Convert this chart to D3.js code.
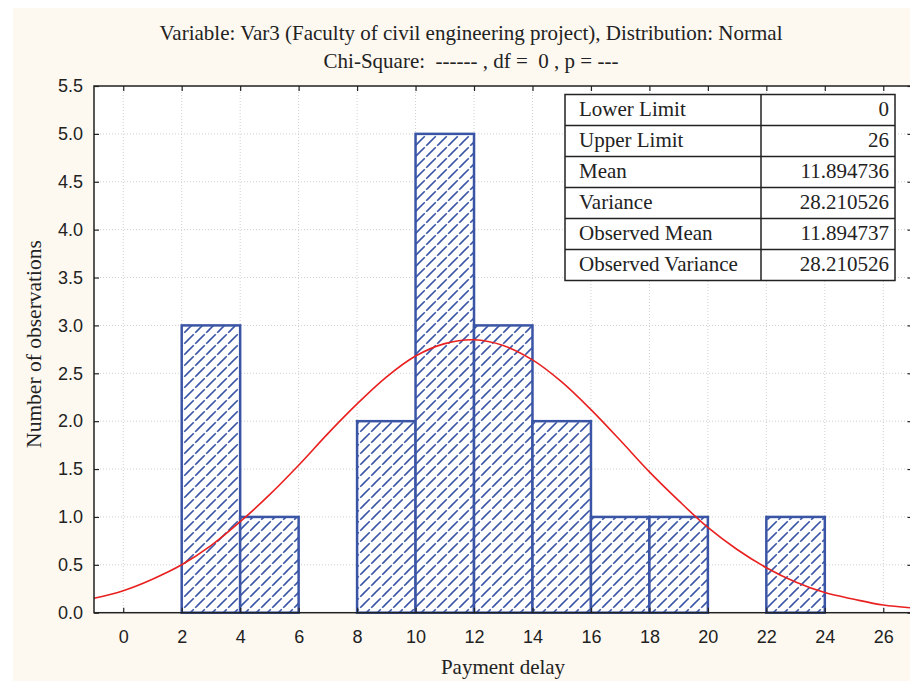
<!DOCTYPE html>
<meta charset="utf-8">
<html>
<script src="https://d3js.org/d3.v7.min.js"></script>
<style>
    body { margin: 0; background: #fff; }
    svg { display: block; }
</style>
<body>
<div id="chart"></div>
<script>
    // histogram bins (lower edge, upper edge, count)
    var binStart = [2, 4, 6, 8, 10, 12, 14, 16, 18, 20, 22];
    var binEnd   = [4, 6, 8, 10, 12, 14, 16, 18, 20, 22, 24];
    var counts   = [3, 1, 0, 2, 5, 3, 2, 1, 1, 0, 1];

    // fitted normal curve at whole x values
    var curveX = [-1, 0, 1, 2, 3, 4, 5, 6, 7, 8, 9, 10, 11, 12, 13,
                  14, 15, 16, 17, 18, 19, 20, 21, 22, 23, 24, 25, 26, 27];
    var curveY = [0.15, 0.23, 0.35, 0.50, 0.70, 0.95, 1.23, 1.54, 1.87, 2.18, 2.46, 2.68, 2.81, 2.85, 2.79,
                  2.64, 2.41, 2.12, 1.80, 1.47, 1.17, 0.89, 0.66, 0.47, 0.32, 0.21, 0.14, 0.08, 0.05];

    var xTicks = [0, 2, 4, 6, 8, 10, 12, 14, 16, 18, 20, 22, 24, 26];
    var yTicks = [0, 0.5, 1, 1.5, 2, 2.5, 3, 3.5, 4, 4.5, 5, 5.5];

    var tableLabels = ["Lower Limit", "Upper Limit", "Mean", "Variance", "Observed Mean", "Observed Variance"];
    var tableValues = ["0", "26", "11.894736", "28.210526", "11.894737", "28.210526"];

    var titleLines = ["Variable: Var3 (Faculty of civil engineering project), Distribution: Normal",
                      "Chi-Square:  ------ , df =  0 , p = ---"];

    var W = 910, H = 681;
    var pL = 94, pR = 912.5, pT = 86, pB = 612.7;
    var serif = "Liberation Serif, Times New Roman, serif";

    var svg = d3.select("#chart").append("svg")
        .attr("width", W).attr("height", H);

    // cream page background
    svg.append("rect").attr("x", 13).attr("y", 8)
        .attr("width", W - 13).attr("height", H - 8)
        .attr("fill", "#fdf9f1");

    var defs = svg.append("defs");
    var pat = defs.append("pattern").attr("id", "hatch")
        .attr("patternUnits", "userSpaceOnUse")
        .attr("width", 11).attr("height", 11);
    pat.append("rect").attr("width", 11).attr("height", 11).attr("fill", "#fff");
    pat.append("path")
        .attr("d", "M-1,12 L12,-1 M-3,3 L3,-3 M8,14 L14,8")
        .attr("stroke", "#3a55a5").attr("stroke-width", 1.6)
        .attr("stroke-dasharray", "11,2");

    var x = d3.scaleLinear().domain([-1, 27]).range([pL, pR]);
    var y = d3.scaleLinear().domain([0, 5.5]).range([pB, pT]);

    // plot area
    svg.append("rect").attr("x", pL).attr("y", pT)
        .attr("width", pR - pL).attr("height", pB - pT)
        .attr("fill", "#fff");

    // grid
    svg.append("g").selectAll("line").data(xTicks).enter().append("line")
        .attr("x1", function (d) { return x(d); }).attr("x2", function (d) { return x(d); })
        .attr("y1", pT).attr("y2", pB)
        .attr("stroke", "#cfcfcf").attr("stroke-dasharray", "1,2");
    svg.append("g").selectAll("line").data(yTicks.slice(1, -1)).enter().append("line")
        .attr("x1", pL).attr("x2", pR)
        .attr("y1", function (d) { return y(d); }).attr("y2", function (d) { return y(d); })
        .attr("stroke", "#cfcfcf").attr("stroke-dasharray", "1,2");

    // bars
    var bars = counts.map(function (c, i) { return { a: binStart[i], b: binEnd[i], c: c }; })
        .filter(function (d) { return d.c > 0; });
    svg.append("g").selectAll("rect").data(bars).enter().append("rect")
        .attr("x", function (d) { return x(d.a); })
        .attr("y", function (d) { return y(d.c); })
        .attr("width", function (d) { return x(d.b) - x(d.a); })
        .attr("height", function (d) { return y(0) - y(d.c); })
        .attr("fill", "url(#hatch)")
        .attr("stroke", "#3a55a5").attr("stroke-width", 2.5);

    // normal curve
    var line = d3.line()
        .x(function (d, i) { return x(curveX[i]); })
        .y(function (d) { return y(d); })
        .curve(d3.curveCatmullRom);
    svg.append("path").datum(curveY)
        .attr("fill", "none").attr("stroke", "#e8201f").attr("stroke-width", 1.6)
        .attr("d", line);

    // frame
    svg.append("rect").attr("x", pL).attr("y", pT)
        .attr("width", pR - pL).attr("height", pB - pT)
        .attr("fill", "none").attr("stroke", "#222").attr("stroke-width", 1.5);

    // axes
    var xAxis = svg.append("g").attr("transform", "translate(0," + pB + ")")
        .call(d3.axisBottom(x).tickValues(xTicks).tickSizeInner(-5).tickSizeOuter(0).tickPadding(18));
    var xTop = svg.append("g").attr("transform", "translate(0," + pT + ")")
        .call(d3.axisTop(x).tickValues(xTicks).tickSizeInner(-5).tickSizeOuter(0).tickFormat(""));
    var yAxis = svg.append("g").attr("transform", "translate(" + pL + ",0)")
        .call(d3.axisLeft(y).tickValues(yTicks).tickSizeInner(-5).tickSizeOuter(0).tickPadding(11)
            .tickFormat(d3.format(".1f")));
    var yRight = svg.append("g").attr("transform", "translate(" + pR + ",0)")
        .call(d3.axisRight(y).tickValues(yTicks).tickSizeInner(-5).tickSizeOuter(0).tickFormat(""));
    [xAxis, xTop, yAxis, yRight].forEach(function (g) {
        g.select(".domain").remove();
        g.selectAll("line").attr("stroke", "#222").attr("stroke-width", 1.2);
        g.selectAll("text").attr("font-family", "Liberation Sans, Arial, sans-serif")
            .attr("font-size", 18).attr("fill", "#222");
    });

    // stats table
    var tx = 565, tw = 330, ty = 94.5, rh = 31, colX = 761;
    var tbl = svg.append("g");
    tbl.append("rect").attr("x", tx).attr("y", ty).attr("width", tw).attr("height", rh * tableLabels.length)
        .attr("fill", "#fff").attr("stroke", "#222").attr("stroke-width", 1.5);
    tbl.append("line").attr("x1", colX).attr("x2", colX).attr("y1", ty).attr("y2", ty + rh * tableLabels.length)
        .attr("stroke", "#222").attr("stroke-width", 1.5);
    tbl.selectAll(".rowline").data(tableLabels.slice(1)).enter().append("line")
        .attr("x1", tx).attr("x2", tx + tw)
        .attr("y1", function (d, i) { return ty + rh * (i + 1); })
        .attr("y2", function (d, i) { return ty + rh * (i + 1); })
        .attr("stroke", "#222").attr("stroke-width", 1.5);
    tbl.selectAll(".lbl").data(tableLabels).enter().append("text")
        .attr("x", tx + 14).attr("y", function (d, i) { return ty + rh * i + 21; })
        .attr("font-family", serif).attr("font-size", 21)
        .attr("fill", "#222").text(function (d) { return d; });
    tbl.selectAll(".val").data(tableValues).enter().append("text")
        .attr("x", tx + tw - 6).attr("y", function (d, i) { return ty + rh * i + 21; })
        .attr("text-anchor", "end")
        .attr("font-family", serif).attr("font-size", 21)
        .attr("fill", "#222").text(function (d) { return d; });

    // titles
    svg.selectAll(".title").data(titleLines).enter().append("text")
        .attr("x", 471).attr("y", function (d, i) { return 40 + i * 28; })
        .attr("text-anchor", "middle").attr("font-family", serif).attr("font-size", 21)
        .attr("fill", "#222").style("white-space", "pre")
        .text(function (d) { return d; });
    svg.append("text").attr("x", 503).attr("y", 674)
        .attr("text-anchor", "middle").attr("font-family", serif).attr("font-size", 21)
        .attr("fill", "#222").text("Payment delay");
    svg.append("text").attr("transform", "translate(41,344) rotate(-90)")
        .attr("text-anchor", "middle").attr("font-family", serif).attr("font-size", 21.5)
        .attr("fill", "#222").text("Number of observations");
</script>
</body>
</html>
